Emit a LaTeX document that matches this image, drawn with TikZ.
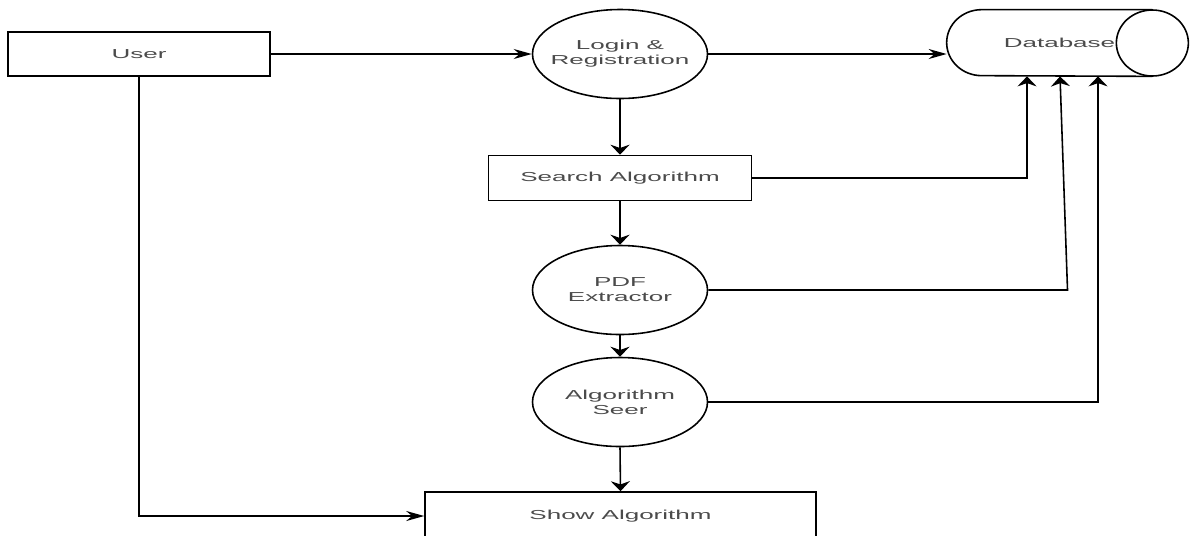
\documentclass[tikz,border=0pt]{standalone}
\usepackage{fontspec}
\setmainfont{Liberation Sans}[FakeStretch=2]
\usetikzlibrary{arrows.meta,shapes.geometric}
\definecolor{textgray}{RGB}{75,75,75}

\begin{document}
\begin{tikzpicture}[
    box/.style={rectangle,draw,line width=0.9pt,align=center,text=textgray,font=\fontsize{7.4}{8.5}\selectfont},
    proc/.style={ellipse,draw,line width=0.9pt,align=center,inner xsep=-0.2cm,inner ysep=0pt,text=textgray,font=\fontsize{7.4}{8.5}\selectfont,minimum width=3.5cm,minimum height=1.78cm},
    store/.style={rectangle,inner sep=0pt,text=textgray,font=\fontsize{7.4}{8.5}\selectfont,minimum width=4.82cm,minimum height=1.32cm},
    harrow/.style={-{Stealth[length=0.36cm,width=0.2cm]},line width=0.9pt},
    varrow/.style={-{Stealth[length=0.2cm,width=0.38cm]},line width=0.9pt}]

    \useasboundingbox (0,0) rectangle (24,-10.7);

    % Top row
    \node[box,minimum width=5.24cm,minimum height=0.88cm] at (2.78,-1.08) (user) {User};
    \node[proc] at (12.4,-1.08) (login) {Login \&\\Registration};
    \node[store] at (21.35,-0.86) (db) {Database\hspace*{0.32cm}};

    % Database outline
    \draw[line width=0.9pt] ([xshift=-0.72cm]db.north east) -- ([xshift=0.7cm]db.north west)
        arc[start angle=90,end angle=270,x radius=0.7cm,y radius=0.66cm]
        -- ([xshift=-0.72cm]db.south east);
    \draw[line width=0.9pt] ([xshift=-0.72cm]db.east) ellipse[x radius=0.72cm,y radius=0.66cm];

    % Main column
    \node[box,minimum width=5.26cm,minimum height=0.9cm] at (12.4,-3.56) (search) {Search Algorithm};
    \node[proc] at (12.4,-5.8) (pdf) {PDF\\Extractor};
    \node[proc] at (12.4,-8.04) (seer) {Algorithm\\Seer};
    \node[box,minimum width=7.82cm,minimum height=0.96cm] at (12.41,-10.32) (show) {Show Algorithm};

    % Flow
    \draw[harrow] (user.east) -- (login.west);
    \draw[harrow] (login.east) -- (login.east -| db.west);
    \draw[varrow] (login.south) -- (search.north);
    \draw[varrow] (search.south) -- (pdf.north);
    \draw[varrow] (pdf.south) -- (seer.north);
    \draw[varrow] (seer.south) -- (show.north);
    \draw[harrow] (user.south) |- (show.west);

    % Writes to the database
    \draw[varrow] (search.east) -| ([xshift=-0.81cm]db.south);
    \draw[varrow] (pdf.east) -- (pdf.east -| db.south) -- ([xshift=-0.15cm]db.south);
    \draw[varrow] (seer.east) -| ([xshift=0.61cm]db.south);
\end{tikzpicture}
\end{document}
